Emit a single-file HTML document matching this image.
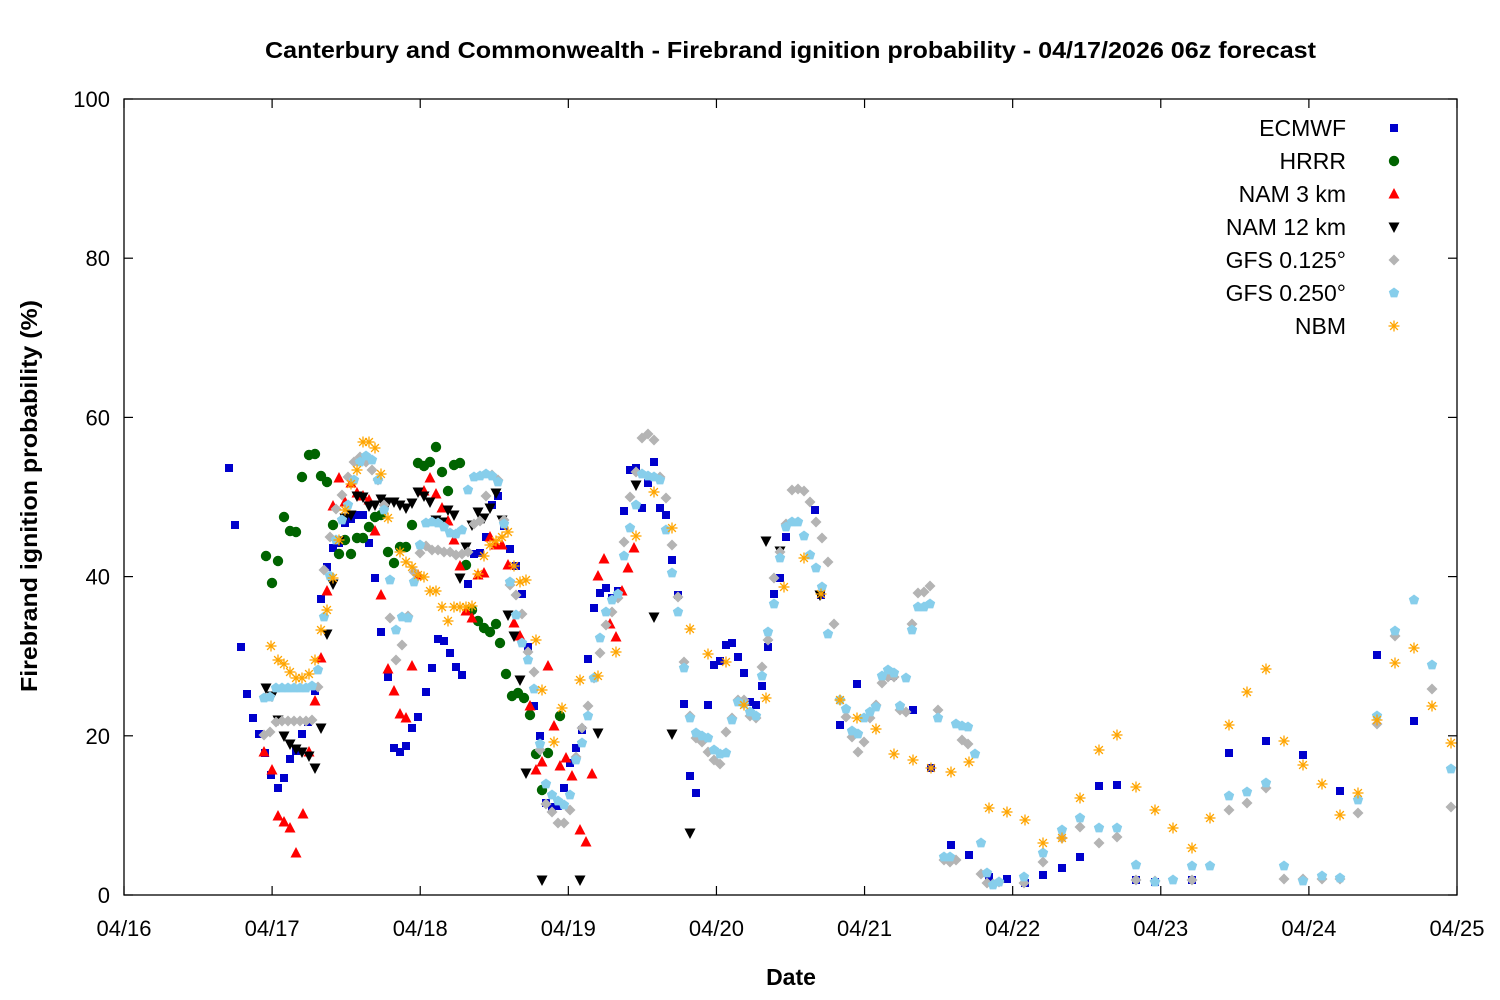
<!DOCTYPE html>
<html><head><meta charset="utf-8"><style>
html,body{margin:0;padding:0;background:#fff;}
svg{display:block;font-family:"Liberation Sans","DejaVu Sans",sans-serif;}
</style></head><body>
<svg id="s" width="1500" height="1000" xmlns="http://www.w3.org/2000/svg">
<rect width="1500" height="1000" fill="#fff"/>
<text x="265" y="58" font-size="23" font-weight="bold" textLength="1051" lengthAdjust="spacingAndGlyphs">Canterbury and Commonwealth - Firebrand ignition probability - 04/17/2026 06z forecast</text>
<text x="791" y="985" text-anchor="middle" font-size="23" font-weight="bold">Date</text>
<text transform="translate(37,692) rotate(-90)" font-size="23" font-weight="bold" textLength="392" lengthAdjust="spacingAndGlyphs">Firebrand ignition probability (%)</text>
<g id="axes"></g>
<g id="pts"></g>
<g id="leg" font-size="23" text-anchor="end"></g>
<rect x="124" y="99" width="1333" height="796" fill="none" stroke="#000" stroke-width="1.3"/>
</svg>
<script>
var NS="http://www.w3.org/2000/svg";
function el(t,a,p,txt){var e=document.createElementNS(NS,t);for(var k in a)e.setAttribute(k,a[k]);if(txt!==undefined)e.textContent=txt;p.appendChild(e);return e;}
var ax=document.getElementById('axes');
var x0=124,x1=1457,y0=895,y1=99;
for(var i=0;i<=5;i++){var y=y0-(y0-y1)*i/5;
 el('line',{x1:x0,y1:y,x2:x0+9,y2:y,stroke:'#000','stroke-width':1.2},ax);
 el('line',{x1:x1,y1:y,x2:x1-9,y2:y,stroke:'#000','stroke-width':1.2},ax);
 el('text',{x:110,y:y+8,'text-anchor':'end','font-size':22},ax,String(i*20));}
var labs=['04/16','04/17','04/18','04/19','04/20','04/21','04/22','04/23','04/24','04/25'];
for(var i=0;i<=9;i++){var x=x0+(x1-x0)*i/9;
 el('line',{x1:x,y1:y0,x2:x,y2:y0-9,stroke:'#000','stroke-width':1.2},ax);
 el('line',{x1:x,y1:y1,x2:x,y2:y1+9,stroke:'#000','stroke-width':1.2},ax);
 el('text',{x:x,y:936,'text-anchor':'middle','font-size':22},ax,labs[i]);}
function P(s){return s.match(/-?\d+/g).map(Number).reduce(function(a,v,i){if(i%2==0)a.push([v]);else a[a.length-1].push(v);return a;},[]);}
var S=[
['ECMWF','sq','#0000cc',"(229,468),(235,525),(241,647),(247,694),(253,718),(259,734),(265,753),(271,775),(278,788),(284,778),(290,759),(296,751),(302,734),(308,722),(315,691),(321,599),(327,567),(333,548),(339,543),(345,523),(351,519),(357,515),(363,515),(369,543),(375,578),(381,632),(388,677),(394,748),(400,752),(406,746),(412,728),(418,717),(426,692),(432,668),(438,639),(444,641),(450,653),(456,667),(462,675),(468,584),(474,554),(480,553),(486,537),(492,505),(498,496),(504,526),(510,549),(516,566),(522,594),(528,647),(534,706),(540,736),(546,803),(552,807),(558,806),(564,788),(570,763),(576,748),(582,730),(588,659),(594,608),(600,593),(606,588),(612,598),(618,591),(624,511),(630,470),(636,468),(642,508),(648,483),(654,462),(660,508),(666,515),(672,560),(678,595),(684,704),(690,776),(696,793),(702,738),(708,705),(714,665),(720,661),(726,645),(732,643),(738,657),(744,673),(750,702),(756,705),(762,686),(768,647),(774,594),(780,578),(786,537),(815,510),(821,595),(840,725),(857,684),(893,676),(913,710),(931,768),(951,845),(969,855),(989,877),(1007,879),(1025,883),(1043,875),(1062,868),(1080,857),(1099,786),(1117,785),(1136,880),(1155,882),(1192,880),(1229,753),(1266,741),(1303,755),(1340,791),(1377,655),(1414,721)"],
['HRRR','ci','#006400',"(266,556),(272,583),(278,561),(284,517),(290,531),(296,532),(302,477),(309,455),(315,454),(321,476),(327,482),(333,525),(339,554),(345,540),(351,554),(357,538),(363,538),(369,527),(375,517),(381,515),(388,552),(394,563),(400,547),(406,547),(412,525),(418,463),(424,466),(430,462),(436,447),(442,472),(448,491),(454,465),(460,463),(466,565),(472,610),(478,621),(484,628),(490,632),(496,624),(500,643),(506,674),(512,696),(518,693),(524,698),(530,715),(536,754),(542,790),(548,753),(560,716)"],
['NAM 3 km','tu','#ff0000',"(264,752),(272,770),(278,816),(284,822),(290,828),(296,853),(303,814),(309,752),(315,701),(321,658),(327,591),(333,506),(339,478),(345,502),(351,483),(357,493),(363,496),(369,500),(375,531),(381,595),(388,669),(394,691),(400,714),(406,718),(412,666),(418,575),(424,491),(430,478),(436,494),(442,508),(448,521),(454,540),(460,566),(466,611),(472,618),(478,575),(484,573),(490,537),(496,545),(502,545),(508,565),(514,623),(520,636),(530,706),(536,770),(542,762),(548,666),(554,726),(560,766),(566,758),(572,776),(580,830),(586,842),(592,774),(598,576),(604,559),(610,624),(616,637),(622,591),(628,568),(634,548)"],
['NAM 12 km','td','#000000',"(266,688),(272,696),(278,720),(284,736),(290,744),(296,749),(302,752),(309,756),(315,768),(321,728),(327,634),(333,584),(339,541),(345,518),(351,515),(357,496),(363,497),(369,506),(375,505),(381,499),(388,502),(394,502),(400,505),(406,508),(412,503),(418,492),(424,496),(430,502),(436,520),(442,522),(448,510),(454,515),(460,578),(466,547),(472,525),(478,512),(484,518),(490,508),(496,493),(502,520),(508,615),(514,636),(520,680),(526,773),(542,880),(580,880),(598,733),(636,485),(654,617),(672,734),(690,833),(766,541),(780,551),(820,595)"],
['GFS 0.125°','di','#b4b4b4',"(264,735),(270,732),(276,722),(282,721),(288,721),(294,721),(300,721),(306,721),(312,720),(318,687),(324,570),(330,537),(336,509),(342,495),(348,477),(354,462),(360,457),(366,462),(372,470),(378,480),(384,505),(390,618),(396,660),(402,645),(408,616),(414,572),(420,553),(426,546),(432,550),(438,550),(444,552),(450,552),(456,555),(462,554),(468,552),(474,524),(480,521),(486,496),(492,475),(498,480),(504,520),(510,585),(516,595),(522,614),(528,652),(534,672),(540,750),(546,804),(552,812),(558,823),(564,823),(570,810),(576,757),(582,728),(588,706),(594,678),(600,653),(606,625),(612,612),(618,598),(624,542),(630,497),(636,472),(642,438),(648,434),(654,440),(660,477),(666,498),(672,545),(678,597),(684,662),(690,716),(696,738),(702,742),(708,752),(714,760),(720,764),(726,732),(732,718),(738,700),(744,700),(750,716),(756,718),(762,667),(768,640),(774,578),(780,552),(786,524),(792,490),(798,489),(804,491),(810,502),(816,522),(822,538),(828,562),(834,624),(840,700),(846,717),(852,737),(858,752),(864,742),(870,718),(876,705),(882,683),(888,677),(894,677),(900,710),(906,712),(912,624),(918,593),(924,592),(930,586),(938,710),(944,860),(950,862),(956,860),(962,740),(968,744),(981,874),(987,883),(993,884),(999,882),(1024,883),(1043,862),(1062,838),(1080,827),(1099,843),(1117,837),(1136,880),(1155,881),(1192,880),(1229,810),(1247,803),(1266,788),(1284,879),(1303,879),(1322,879),(1340,879),(1358,813),(1377,724),(1395,636),(1432,689),(1451,807)"],
['GFS 0.250°','pe','#87ceeb',"(264,698),(270,697),(276,688),(282,688),(288,688),(294,688),(300,688),(306,688),(312,686),(318,670),(324,617),(330,576),(336,540),(342,520),(348,505),(354,480),(360,462),(366,456),(372,460),(378,480),(384,510),(390,580),(396,630),(402,617),(408,618),(414,582),(420,545),(426,523),(432,522),(438,523),(444,527),(450,533),(456,534),(462,530),(468,490),(474,477),(480,476),(486,474),(492,476),(498,482),(504,524),(510,582),(516,615),(522,643),(528,660),(534,689),(540,744),(546,784),(552,795),(558,801),(564,805),(570,795),(576,760),(582,743),(588,716),(594,678),(600,638),(606,612),(612,600),(618,594),(624,556),(630,528),(636,505),(642,474),(648,476),(654,477),(660,480),(666,530),(672,573),(678,612),(684,668),(690,718),(696,733),(702,736),(708,738),(714,750),(720,754),(726,753),(732,720),(738,702),(744,704),(750,712),(756,716),(762,676),(768,632),(774,604),(780,558),(786,527),(792,522),(798,522),(804,536),(810,555),(816,568),(822,587),(828,634),(840,700),(846,709),(852,731),(858,734),(864,718),(870,712),(876,707),(882,676),(888,670),(894,673),(900,706),(906,678),(912,630),(918,607),(924,607),(930,604),(938,718),(944,857),(950,857),(956,724),(962,726),(968,727),(975,754),(981,843),(987,873),(993,885),(999,882),(1024,877),(1043,853),(1062,830),(1080,818),(1099,828),(1117,828),(1136,865),(1155,882),(1173,880),(1192,866),(1210,866),(1229,796),(1247,792),(1266,783),(1284,866),(1303,881),(1322,876),(1340,878),(1358,800),(1377,716),(1395,631),(1414,600),(1432,665),(1451,769)"],
['NBM','as','#ffa500',"(271,646),(278,660),(284,664),(290,672),(296,678),(302,678),(309,674),(315,660),(321,630),(327,610),(333,578),(339,540),(345,510),(351,484),(357,470),(363,442),(369,442),(375,448),(381,474),(388,518),(400,552),(406,562),(412,567),(418,575),(424,577),(430,591),(436,591),(442,607),(448,621),(454,607),(460,607),(466,607),(472,606),(478,574),(484,556),(490,545),(496,541),(502,537),(508,532),(514,566),(520,582),(526,580),(536,640),(542,690),(554,742),(562,708),(580,680),(598,676),(616,652),(636,536),(654,492),(672,528),(690,629),(708,654),(726,662),(744,705),(766,698),(784,587),(804,558),(821,594),(840,700),(857,718),(876,729),(894,754),(913,760),(931,768),(951,772),(969,762),(989,808),(1007,812),(1025,820),(1043,843),(1062,838),(1080,798),(1099,750),(1117,735),(1136,787),(1155,810),(1173,828),(1192,848),(1210,818),(1229,725),(1247,692),(1266,669),(1284,741),(1303,765),(1322,784),(1340,815),(1358,793),(1377,720),(1395,663),(1414,648),(1432,706),(1451,743)"]
];
function mk(g,t,c,x,y){
 if(t=='sq')el('rect',{x:x-4,y:y-4,width:8,height:8,fill:c},g);
 else if(t=='ci')el('circle',{cx:x,cy:y,r:5.2,fill:c},g);
 else if(t=='tu')el('polygon',{points:(x-5.5)+','+(y+4.5)+' '+(x+5.5)+','+(y+4.5)+' '+x+','+(y-6),fill:c},g);
 else if(t=='td')el('polygon',{points:(x-5.5)+','+(y-4.5)+' '+(x+5.5)+','+(y-4.5)+' '+x+','+(y+6),fill:c},g);
 else if(t=='di')el('polygon',{points:x+','+(y-5.5)+' '+(x+5.5)+','+y+' '+x+','+(y+5.5)+' '+(x-5.5)+','+y,fill:c},g);
 else if(t=='pe'){var p=[];for(var k=0;k<5;k++){var a=-Math.PI/2+k*2*Math.PI/5;p.push((x+5.5*Math.cos(a)).toFixed(1)+','+(y+5.5*Math.sin(a)).toFixed(1));}el('polygon',{points:p.join(' '),fill:c},g);}
 else if(t=='as'){for(var k=0;k<4;k++){var a=k*Math.PI/4;el('line',{x1:x-5.5*Math.cos(a),y1:y-5.5*Math.sin(a),x2:x+5.5*Math.cos(a),y2:y+5.5*Math.sin(a),stroke:c,'stroke-width':1.3},g);}}
}
var g=document.getElementById('pts'),lg=document.getElementById('leg');
S.forEach(function(s,i){P(s[3]).forEach(function(p){mk(g,s[1],s[2],p[0],p[1]);});
 var ly=128+i*33; el('text',{x:1346,y:ly+8},lg,s[0]); mk(lg,s[1],s[2],1394,ly);});
</script>
</body></html>
